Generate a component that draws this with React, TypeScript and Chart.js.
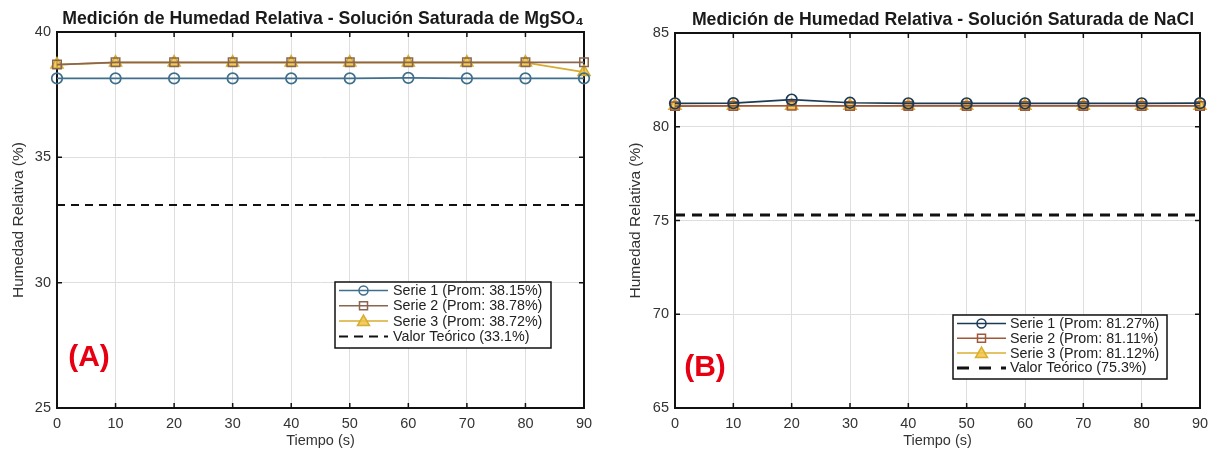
import React, { useEffect, useRef } from "react";
import { Chart, registerables } from "chart.js";

Chart.register(...registerables);

// ---------- data ----------
const timeS = [0, 10, 20, 30, 40, 50, 60, 70, 80, 90];
const xTickValues = [0, 10, 20, 30, 40, 50, 60, 70, 80, 90];

const mgso4Serie1 = [38.15, 38.15, 38.15, 38.15, 38.15, 38.15, 38.17, 38.15, 38.15, 38.15];
const mgso4Serie2 = [38.7, 38.79, 38.79, 38.79, 38.79, 38.79, 38.79, 38.79, 38.79, 38.79];
const mgso4Serie3 = [38.7, 38.78, 38.78, 38.78, 38.78, 38.78, 38.78, 38.78, 38.78, 38.4];
const mgso4Theoretical = 33.1;
const mgso4YTicks = [25, 30, 35, 40];
const mgso4Legend = [
  "Serie 1 (Prom: 38.15%)",
  "Serie 2 (Prom: 38.78%)",
  "Serie 3 (Prom: 38.72%)",
  "Valor Teórico (33.1%)",
];
const mgso4Title = "Medición de Humedad Relativa - Solución Saturada de MgSO₄";

const naclSerie1 = [81.25, 81.26, 81.45, 81.28, 81.25, 81.25, 81.25, 81.25, 81.25, 81.26];
const naclSerie2 = [81.1, 81.11, 81.12, 81.11, 81.11, 81.11, 81.11, 81.11, 81.11, 81.11];
const naclSerie3 = [81.12, 81.12, 81.12, 81.12, 81.12, 81.12, 81.12, 81.12, 81.12, 81.12];
const naclTheoretical = 75.3;
const naclYTicks = [65, 70, 75, 80, 85];
const naclLegend = [
  "Serie 1 (Prom: 81.27%)",
  "Serie 2 (Prom: 81.11%)",
  "Serie 3 (Prom: 81.12%)",
  "Valor Teórico (75.3%)",
];
const naclTitle = "Medición de Humedad Relativa - Solución Saturada de NaCl";

const xAxisTitle = "Tiempo (s)";
const yAxisTitle = "Humedad Relativa (%)";

const FONT = "'Liberation Sans', Arial, Helvetica, sans-serif";

type Panel = {
  title: string;
  tag: string;
  s1: number[];
  s2: number[];
  s3: number[];
  theo: number;
  yTicks: number[];
  legend: string[];
  c1: string;
  c2: string;
  c3: string;
  c3fill: string;
  left: number;
  width: number;
  padTop: number;
  padRight: number;
  yAxisWidth: number;
  titleX: number;
  titleY: number;
  yTitleX: number;
  tagX: number;
  tagY: number;
  legendBox: { x: number; y: number; w: number; h: number; rowH: number; textX: number };
  dashWidth: number;
  dash: number[];
  legendDash: number[];
};

const panels: Panel[] = [
  {
    title: mgso4Title,
    tag: "(A)",
    s1: mgso4Serie1,
    s2: mgso4Serie2,
    s3: mgso4Serie3,
    theo: mgso4Theoretical,
    yTicks: mgso4YTicks,
    legend: mgso4Legend,
    c1: "#3f6f8c",
    c2: "#8a6650",
    c3: "#d8ac30",
    c3fill: "rgba(238,196,70,0.85)",
    left: 0,
    width: 605,
    padTop: 32,
    padRight: 21,
    yAxisWidth: 57,
    titleX: 323,
    titleY: 19,
    yTitleX: 19,
    tagX: 89,
    tagY: 358,
    legendBox: { x: 335, y: 282, w: 216, h: 66, rowH: 15.3, textX: 58 },
    dashWidth: 2,
    dash: [8, 6],
    legendDash: [9, 6],
  },
  {
    title: naclTitle,
    tag: "(B)",
    s1: naclSerie1,
    s2: naclSerie2,
    s3: naclSerie3,
    theo: naclTheoretical,
    yTicks: naclYTicks,
    legend: naclLegend,
    c1: "#1d3a55",
    c2: "#a0583a",
    c3: "#dcae30",
    c3fill: "rgba(240,198,70,0.85)",
    left: 610,
    width: 609,
    padTop: 33,
    padRight: 19,
    yAxisWidth: 65,
    titleX: 333,
    titleY: 20,
    yTitleX: 26,
    tagX: 95,
    tagY: 368,
    legendBox: { x: 343, y: 315, w: 214, h: 64, rowH: 14.8, textX: 57 },
    dashWidth: 3,
    dash: [10, 7],
    legendDash: [12, 10],
  },
];

function drawMarker(ctx: CanvasRenderingContext2D, kind: string, x: number, y: number, color: string, fill: string) {
  ctx.save();
  ctx.strokeStyle = color;
  ctx.lineWidth = 1.5;
  ctx.beginPath();
  if (kind === "circle") {
    ctx.arc(x, y, 4.5, 0, Math.PI * 2);
  } else if (kind === "rect") {
    ctx.rect(x - 4, y - 4, 8, 8);
  } else {
    ctx.moveTo(x, y - 6);
    ctx.lineTo(x + 6, y + 4.5);
    ctx.lineTo(x - 6, y + 4.5);
    ctx.closePath();
  }
  if (fill) {
    ctx.fillStyle = fill;
    ctx.fill();
  }
  ctx.stroke();
  ctx.restore();
}

function makeDecor(p: Panel) {
  return {
    id: "decor",
    beforeDatasetsDraw(chart: any) {
      const { ctx, chartArea: a, scales } = chart;
      ctx.save();
      ctx.strokeStyle = "#111";
      ctx.lineWidth = 1.5;
      ctx.beginPath();
      for (const v of xTickValues) {
        const x = scales.x.getPixelForValue(v);
        ctx.moveTo(x, a.bottom);
        ctx.lineTo(x, a.bottom - 5);
        ctx.moveTo(x, a.top);
        ctx.lineTo(x, a.top + 5);
      }
      for (const v of p.yTicks) {
        const y = scales.y.getPixelForValue(v);
        ctx.moveTo(a.left, y);
        ctx.lineTo(a.left + 5, y);
        ctx.moveTo(a.right, y);
        ctx.lineTo(a.right - 5, y);
      }
      ctx.stroke();
      ctx.lineWidth = 2;
      ctx.strokeRect(a.left, a.top, a.right - a.left, a.bottom - a.top);
      ctx.restore();
    },
    afterDraw(chart: any) {
      const { ctx, chartArea: a } = chart;
      ctx.save();
      // title
      ctx.fillStyle = "#1a1a1a";
      ctx.font = `bold 17.7px ${FONT}`;
      ctx.textAlign = "center";
      ctx.textBaseline = "middle";
      ctx.fillText(p.title, p.titleX, p.titleY);
      // x axis title
      ctx.fillStyle = "#333";
      ctx.font = `14.5px ${FONT}`;
      ctx.fillText(xAxisTitle, (a.left + a.right) / 2, 441);
      // y axis title
      ctx.save();
      ctx.translate(p.yTitleX, (a.top + a.bottom) / 2);
      ctx.rotate(-Math.PI / 2);
      ctx.font = `15.5px ${FONT}`;
      ctx.fillText(yAxisTitle, 0, 0);
      ctx.restore();
      // tag
      ctx.fillStyle = "#e60012";
      ctx.font = `bold 30px ${FONT}`;
      ctx.fillText(p.tag, p.tagX, p.tagY);
      // legend
      const b = p.legendBox;
      ctx.fillStyle = "#fff";
      ctx.fillRect(b.x, b.y, b.w, b.h);
      ctx.strokeStyle = "#111";
      ctx.lineWidth = 1.5;
      ctx.strokeRect(b.x, b.y, b.w, b.h);
      const colors = [p.c1, p.c2, p.c3, "#111"];
      const kinds = ["circle", "rect", "triangle", "dash"];
      const fills = ["", "", p.c3fill, ""];
      ctx.font = `14.3px ${FONT}`;
      ctx.textAlign = "left";
      for (let i = 0; i < 4; i++) {
        const y = b.y + 8.5 + i * b.rowH;
        const x0 = b.x + 4;
        const x1 = b.x + 53;
        ctx.save();
        ctx.strokeStyle = colors[i];
        if (kinds[i] === "dash") {
          ctx.lineWidth = p.dashWidth;
          ctx.setLineDash(p.legendDash);
        } else {
          ctx.lineWidth = 1.5;
        }
        ctx.beginPath();
        ctx.moveTo(x0, y);
        ctx.lineTo(x1, y);
        ctx.stroke();
        ctx.restore();
        if (kinds[i] !== "dash") {
          drawMarker(ctx, kinds[i], (x0 + x1) / 2, y, colors[i], fills[i]);
        }
        ctx.fillStyle = "#222";
        ctx.fillText(p.legend[i], b.x + b.textX, y + 0.5);
      }
      ctx.restore();
    },
  };
}

function PanelChart({ p }: { p: Panel }) {
  const ref = useRef<HTMLCanvasElement | null>(null);
  useEffect(() => {
    if (!ref.current) return;
    const toXY = (arr: number[]) => timeS.map((t, i) => ({ x: t, y: arr[i] }));
    const chart = new Chart(ref.current, {
      type: "line",
      data: {
        datasets: [
          {
            label: "Serie 1",
            data: toXY(p.s1),
            borderColor: p.c1,
            borderWidth: 1.7,
            pointStyle: "circle",
            pointRadius: 5.3,
            pointBorderWidth: 1.7,
            pointBorderColor: p.c1,
            pointBackgroundColor: "rgba(255,255,255,0)",
            clip: false,
          },
          {
            label: "Serie 2",
            data: toXY(p.s2),
            borderColor: p.c2,
            borderWidth: 1.7,
            pointStyle: "rect",
            pointRadius: 6,
            pointBorderWidth: 1.5,
            pointBorderColor: p.c2,
            pointBackgroundColor: "rgba(255,255,255,0)",
            clip: false,
          },
          {
            label: "Serie 3",
            data: toXY(p.s3),
            borderColor: p.c3,
            borderWidth: 1.7,
            pointStyle: "triangle",
            pointRadius: 7,
            pointBorderWidth: 1.5,
            pointBorderColor: p.c3,
            pointBackgroundColor: p.c3fill,
            clip: false,
          },
          {
            label: "Valor Teórico",
            data: [
              { x: timeS[0], y: p.theo },
              { x: timeS[timeS.length - 1], y: p.theo },
            ],
            borderColor: "#111",
            borderWidth: p.dashWidth,
            borderDash: p.dash,
            pointRadius: 0,
          },
        ],
      },
      options: {
        responsive: false,
        animation: false,
        layout: { padding: { top: p.padTop, right: p.padRight, bottom: 0, left: 0 } },
        plugins: {
          legend: { display: false },
          title: { display: false },
          tooltip: { enabled: false },
        },
        scales: {
          x: {
            type: "linear",
            min: 0,
            max: 90,
            afterBuildTicks: (s: any) => {
              s.ticks = xTickValues.map((v) => ({ value: v }));
            },
            afterFit: (s: any) => {
              s.height = 44;
            },
            grid: { color: "#dedede", lineWidth: 1, drawTicks: false },
            border: { display: false },
            ticks: {
              padding: 7,
              color: "#333",
              font: { size: 14.5, family: FONT },
              maxRotation: 0,
            },
          },
          y: {
            type: "linear",
            min: p.yTicks[0],
            max: p.yTicks[p.yTicks.length - 1],
            afterBuildTicks: (s: any) => {
              s.ticks = p.yTicks.map((v) => ({ value: v }));
            },
            afterFit: (s: any) => {
              s.width = p.yAxisWidth;
            },
            grid: { color: "#dedede", lineWidth: 1, drawTicks: false },
            border: { display: false },
            ticks: {
              padding: 6,
              color: "#333",
              font: { size: 14.5, family: FONT },
            },
          },
        },
      },
      plugins: [makeDecor(p)],
    } as any);
    return () => chart.destroy();
  }, [p]);
  return (
    <canvas
      ref={ref}
      width={p.width}
      height={452}
      style={{ position: "absolute", left: p.left, top: 0, width: p.width, height: 452 }}
    />
  );
}

export default function App() {
  return (
    <div
      style={{
        position: "absolute",
        left: 0,
        top: 0,
        width: 1219,
        height: 452,
        background: "#fff",
        overflow: "hidden",
      }}
    >
      {panels.map((p) => (
        <PanelChart key={p.tag} p={p} />
      ))}
    </div>
  );
}
